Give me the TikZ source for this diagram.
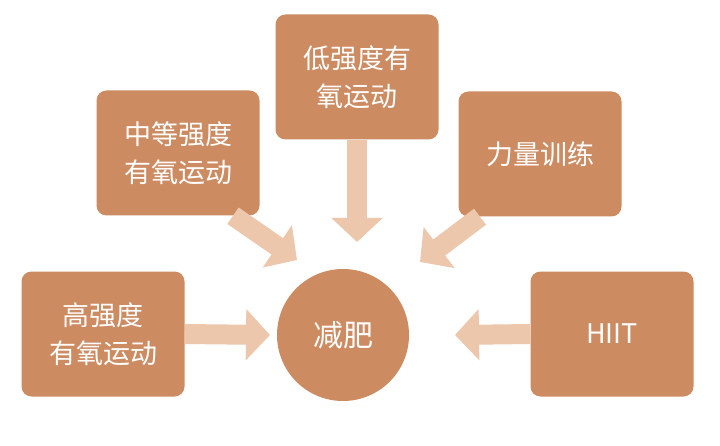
\documentclass[tikz,border=0pt]{standalone}
\usepackage{fontspec}
\newfontfamily\cjk{Noto Sans CJK SC}
\usetikzlibrary{arrows.meta}
\definecolor{boxc}{HTML}{CD8B62}
\definecolor{arrc}{HTML}{EDC7AB}
\tikzset{
 box/.style={draw=none,fill=boxc,rounded corners=10pt,minimum width=163pt,minimum height=125pt,text=white,font=\cjk\fontsize{27}{38}\selectfont,align=center},
 fat/.style={draw=arrc,line width=20pt,-{Triangle[length=24pt,width=50pt]}}
}
\begin{document}
\begin{tikzpicture}[x=1pt,y=1pt]
\fill[white] (0,0) rectangle (720,445);
\node[circle,fill=boxc,minimum size=132pt,text=white,font=\cjk\fontsize{30}{34}\selectfont] (c) at (343,110) {减肥};
\node[box] (t) at (357,368) {低强度有\\氧运动};
\node[box] (ul) at (178,292) {中等强度\\有氧运动};
\node[box] (ur) at (540,291) {力量训练};
\node[box] (l) at (103,111) {高强度\\有氧运动};
\node[box] (r) at (612,111) {HIIT};
\coordinate (te) at (357,203);
\coordinate (ule) at (297,185);
\coordinate (ure) at (420,183);
\coordinate (le) at (270,110);
\coordinate (re) at (455,110);
\draw[fat] (t.south) -- (te);
\draw[fat] ([shift={(55,0)}]ul.south) -- (ule);
\draw[fat] ([shift={(-60,0)}]ur.south) -- (ure);
\draw[fat] (l.east) -- (le);
\draw[fat] (r.west) -- (re);
\end{tikzpicture}
\end{document}
